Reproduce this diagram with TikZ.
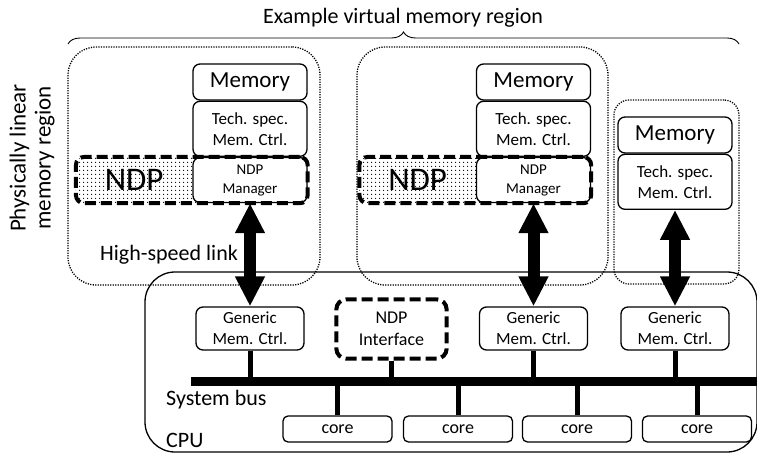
\documentclass[tikz,border=0pt]{standalone}
\usepackage{fontspec}
\setmainfont{Carlito}
\usetikzlibrary{positioning,arrows.meta,fit,backgrounds,decorations.pathreplacing,patterns.meta}
\newcommand{\fsz}[2]{\fontsize{#1pt}{#2pt}\selectfont}

\begin{document}
\begin{tikzpicture}[
  x=1pt,y=-1pt,
  region/.style={draw,line width=1.3pt,dash pattern=on 1.2pt off 1.3pt,rounded corners=28pt,inner sep=0pt},
  blk/.style={draw,fill=white,rounded corners=7pt,line width=1.3pt,align=center,inner sep=0pt,minimum width=114pt},
  membox/.style={blk,minimum height=36pt,font=\fsz{23}{26}},
  techbox/.style={blk,minimum height=55pt,font=\fsz{17}{21}},
  mgrbox/.style={blk,minimum height=45pt,font=\fsz{15}{19}},
  ndptxt/.style={minimum width=116pt,minimum height=45pt,inner sep=0pt,font=\fsz{33}{36}},
  ndpdots/.style={pattern={Dots[distance=4pt,radius=0.8pt]},rounded corners=8pt,inner sep=0pt},
  ndpdash/.style={draw,line width=4pt,dash pattern=on 11pt off 5pt,rounded corners=8pt,inner sep=0pt},
  gmcbox/.style={blk,minimum width=108pt,minimum height=43pt,font=\fsz{17}{21}},
  corebox/.style={blk,rounded corners=5pt,minimum width=109pt,minimum height=26pt,font=\fsz{18}{20}},
  lbl/.style={inner sep=0pt,font=\fsz{22}{25}},
  link/.style={line width=12pt,{Triangle[width=28pt,length=30pt]}-{Triangle[width=28pt,length=30pt]}},
  busln/.style={line width=9pt},
  tapln/.style={line width=5pt}
]
% bounding box
\useasboundingbox (0,0) rectangle (757,454);

% title and brace
\node[lbl] (title) at (403,18) {Example virtual memory region};
\coordinate (braceL) at (68,44);
\coordinate (braceR) at (739,44);
\draw[decorate,decoration={brace,amplitude=12pt},line width=0.9pt] (braceL) -- (braceR);
\node[lbl,font=\fsz{23}{25},align=center,rotate=90] (plmr) at (32,158) {Physically linear\\memory region};

% memory regions
\node[region,minimum width=252pt,minimum height=238pt] (reg1) at (194,166) {};
\node[region,minimum width=251pt,minimum height=238pt] (reg2) at (482.5,166) {};
\node[region,rounded corners=15pt,minimum width=125pt,minimum height=184pt] (reg3) at (676.5,192) {};

% CPU
\node[draw,line width=1.3pt,rounded corners=30pt,minimum width=612pt,minimum height=180pt] (cpu) at (451,362) {};

% region 1
\node[membox] (mem1) at (250,82) {Memory};
\node[techbox,below=0pt of mem1] (tech1) {Tech. spec.\\Mem. Ctrl.};
\node[mgrbox,below=0pt of tech1] (mgr1) {NDP\\Manager};
\node[ndptxt,left=0pt of mgr1] (ndp1) {NDP};

% region 2
\node[membox] (mem2) at (533.5,82) {Memory};
\node[techbox,below=0pt of mem2] (tech2) {Tech. spec.\\Mem. Ctrl.};
\node[mgrbox,below=0pt of tech2] (mgr2) {NDP\\Manager};
\node[ndptxt,left=0pt of mgr2] (ndp2) {NDP};

% region 3
\node[membox] (mem3) at (675,135) {Memory};
\node[techbox,below=0pt of mem3] (tech3) {Tech. spec.\\Mem. Ctrl.};

% NDP frames
\begin{scope}[on background layer]
\node[ndpdots,fit=(ndp1)(mgr1)] (dots1) {};
\node[ndpdots,fit=(ndp2)(mgr2)] (dots2) {};
\end{scope}
\node[ndpdash,fit=(ndp1)(mgr1)] (ndpbox1) {};
\node[ndpdash,fit=(ndp2)(mgr2)] (ndpbox2) {};

% CPU side
\node[gmcbox] (gmc1) at (250,328.5) {Generic\\Mem. Ctrl.};
\node[gmcbox] (gmc2) at (533.5,328.5) {Generic\\Mem. Ctrl.};
\node[gmcbox] (gmc3) at (675,328.5) {Generic\\Mem. Ctrl.};
\node[blk,draw=none,minimum width=109pt,minimum height=58pt,font=\fsz{18}{22}] (ndpif) at (391.5,329) {NDP\\Interface};
\node[ndpdash,fit=(ndpif),rounded corners=10pt] (ndpifbox) {};

\node[corebox] (core1) at (337.5,429) {core};
\node[corebox] (core2) at (458,429) {core};
\node[corebox] (core3) at (577,429) {core};
\node[corebox] (core4) at (697,429) {core};

\node[lbl,anchor=west] (hsl) at (100,255) {High-speed link};
\node[lbl,anchor=west] (sysbus) at (166,400) {System bus};
\node[lbl,anchor=west] (cpulbl) at (166,440) {CPU};

% links
\draw[link] (mgr1.south) -- (gmc1.north);
\draw[link] (mgr2.south) -- (gmc2.north);
\draw[link] (tech3.south) -- (gmc3.north);

% system bus
\coordinate (busL) at (191,381.5);
\coordinate (busR) at (757,381.5);
\draw[busln] (busL) -- (busR);
\foreach \n in {gmc1,gmc2,gmc3,ndpifbox}
  \draw[tapln] (\n.south) -- (\n.south |- busL);
\foreach \n in {core1,core2,core3,core4}
  \draw[tapln] (\n.north) -- (\n.north |- busL);
\end{tikzpicture}
\end{document}
